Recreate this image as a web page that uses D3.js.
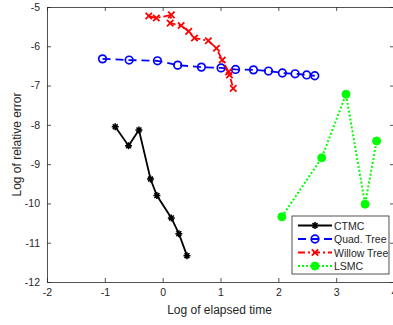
<!DOCTYPE html>
<html>
<head>
<meta charset="utf-8">
<script src="https://cdn.jsdelivr.net/npm/d3@7"></script>
<style>
  body { margin: 0; background: #fff; }
  svg { display: block; font-family: "Liberation Sans", Arial, sans-serif; }
</style>
</head>
<body>
<div class="chart"></div>
<script>
// series values
const ctmcX = [-0.82, -0.59, -0.41, -0.21, -0.10, 0.15, 0.28, 0.42]
const ctmcY = [-8.05, -8.53, -8.13, -9.38, -9.80, -10.37, -10.77, -11.33]

const quadX = [-1.04, -0.58, -0.09, 0.26, 0.67, 1.01, 1.26, 1.57, 1.83, 2.07, 2.29, 2.49, 2.63]
const quadY = [-6.32, -6.35, -6.37, -6.48, -6.53, -6.55, -6.59, -6.60, -6.63, -6.68, -6.70, -6.73, -6.75]

const willowX = [-0.24, -0.11, 0.15, 0.13, 0.32, 0.45, 0.55, 0.79, 0.93, 1.03, 1.14, 1.155, 1.22]
const willowY = [-5.23, -5.28, -5.20, -5.41, -5.47, -5.62, -5.79, -5.86, -6.05, -6.35, -6.65, -6.73, -7.07]

const lsmcX = [2.06, 2.75, 3.17, 3.50, 3.70]
const lsmcY = [-10.34, -8.84, -7.22, -10.02, -8.41]

const seriesNames = ["CTMC", "Quad. Tree", "Willow Tree", "LSMC"]
const xTicks = [-2, -1, 0, 1, 2, 3, 4]
const yTicks = [-12, -11, -10, -9, -8, -7, -6, -5]

const margin = ({top: 7, right: -1, bottom: 43, left: 47})
const W = 393, H = 325
const width = W - margin.left - margin.right
const height = H - margin.top - margin.bottom

const x = d3.scaleLinear().domain([-2, 4]).range([margin.left, margin.left + width])
const y = d3.scaleLinear().domain([-12, -5]).range([margin.top + height, margin.top])

const axisColor = "#262626"
const fmt = d => String(d)   // plain hyphen, no decimals

const svg = d3.create("svg").attr("width", W).attr("height", H)

svg.append("rect")
    .attr("x", margin.left).attr("y", margin.top)
    .attr("width", width).attr("height", height)
    .attr("fill", "#fff")

const zip = (xs, ys) => xs.map((v, i) => ({x: v, y: ys[i]}))

const series = [
    {name: seriesNames[0], data: zip(ctmcX, ctmcY), color: "#000000", dash: null, marker: "star"},
    {name: seriesNames[1], data: zip(quadX, quadY), color: "#0000ff", dash: "8,5", marker: "circle"},
    {name: seriesNames[2], data: zip(willowX, willowY), color: "#ff0000", dash: "7,3,2,3", marker: "cross"},
    {name: seriesNames[3], data: zip(lsmcX, lsmcY), color: "#00ff00", dash: "2,2", marker: "dot"},
]

// axes
const xAxis = g => g
    .attr("transform", `translate(0,${margin.top + height})`)
    .call(d3.axisBottom(x).tickValues(xTicks).tickFormat(fmt).tickSizeInner(-4).tickSizeOuter(0).tickPadding(7))
const xAxisTop = g => g
    .attr("transform", `translate(0,${margin.top})`)
    .call(d3.axisTop(x).tickValues(xTicks).tickSizeInner(-4).tickSizeOuter(0).tickFormat(""))
const yAxis = g => g
    .attr("transform", `translate(${margin.left},0)`)
    .call(d3.axisLeft(y).tickValues(yTicks).tickFormat(fmt).tickSizeInner(-4).tickSizeOuter(0).tickPadding(7))
const yAxisRight = g => g
    .attr("transform", `translate(${margin.left + width},0)`)
    .call(d3.axisRight(y).tickValues(yTicks).tickSizeInner(-4).tickSizeOuter(0).tickFormat(""))

for (const ax of [xAxis, xAxisTop, yAxis, yAxisRight]) {
    svg.append("g").call(ax)
        .call(g => g.selectAll("path, line").attr("stroke", axisColor).attr("stroke-width", 0.8))
        .call(g => g.selectAll("text").attr("fill", axisColor).style("font-size", "10.5px"))
}

svg.append("text")
    .attr("x", margin.left + width / 2 - 1).attr("y", 314)
    .attr("text-anchor", "middle")
    .attr("fill", axisColor)
    .style("font-size", "12px")
    .text("Log of elapsed time")

svg.append("text")
    .attr("transform", `translate(21,${margin.top + height / 2}) rotate(-90)`)
    .attr("text-anchor", "middle")
    .attr("fill", axisColor)
    .style("font-size", "12px")
    .text("Log of relative error")

function drawMarker(g, type, color) {
    if (type === "star") {
        const s = 3.5
        g.append("path")
            .attr("d", `M${-s},0H${s}M0,${-s}V${s}M${-s*0.7},${-s*0.7}L${s*0.7},${s*0.7}M${-s*0.7},${s*0.7}L${s*0.7},${-s*0.7}`)
            .attr("stroke", color).attr("stroke-width", 1.6).attr("fill", "none")
    } else if (type === "circle") {
        g.append("circle").attr("r", 3.8)
            .attr("fill", "none").attr("stroke", color).attr("stroke-width", 1.7)
    } else if (type === "cross") {
        const s = 3.2
        g.append("path")
            .attr("d", `M${-s},${-s}L${s},${s}M${-s},${s}L${s},${-s}`)
            .attr("stroke", color).attr("stroke-width", 1.8).attr("fill", "none")
    } else {
        g.append("circle").attr("r", 4)
            .attr("fill", color).attr("stroke", color).attr("stroke-width", 1)
    }
}

const line = d3.line().x(d => x(d.x)).y(d => y(d.y))

const plot = svg.append("g")

series.forEach(s => {
    plot.append("path")
        .datum(s.data)
        .attr("fill", "none")
        .attr("stroke", s.color)
        .attr("stroke-width", s.marker === "dot" ? 2 : 1.8)
        .attr("stroke-dasharray", s.dash)
        .attr("d", line)
    s.data.forEach(d => {
        const g = plot.append("g").attr("transform", `translate(${x(d.x)},${y(d.y)})`)
        drawMarker(g, s.marker, s.color)
    })
})

// legend
const legend = svg.append("g").attr("transform", "translate(292,216)")
legend.append("rect")
    .attr("width", 97).attr("height", 58)
    .attr("fill", "#fff").attr("stroke", axisColor).attr("stroke-width", 0.8)

series.forEach((s, i) => {
    const ly = 9.5 + i * 13.5
    legend.append("line")
        .attr("x1", 6).attr("x2", 40).attr("y1", ly).attr("y2", ly)
        .attr("stroke", s.color).attr("stroke-width", 1.8)
        .attr("stroke-dasharray", s.dash)
    const g = legend.append("g").attr("transform", `translate(23,${ly})`)
    drawMarker(g, s.marker, s.color)
    legend.append("text")
        .attr("x", 42).attr("y", ly + 4)
        .attr("fill", axisColor)
        .style("font-size", "10.5px")
        .text(s.name)
})

document.querySelector(".chart").appendChild(svg.node())
</script>
</body>
</html>
